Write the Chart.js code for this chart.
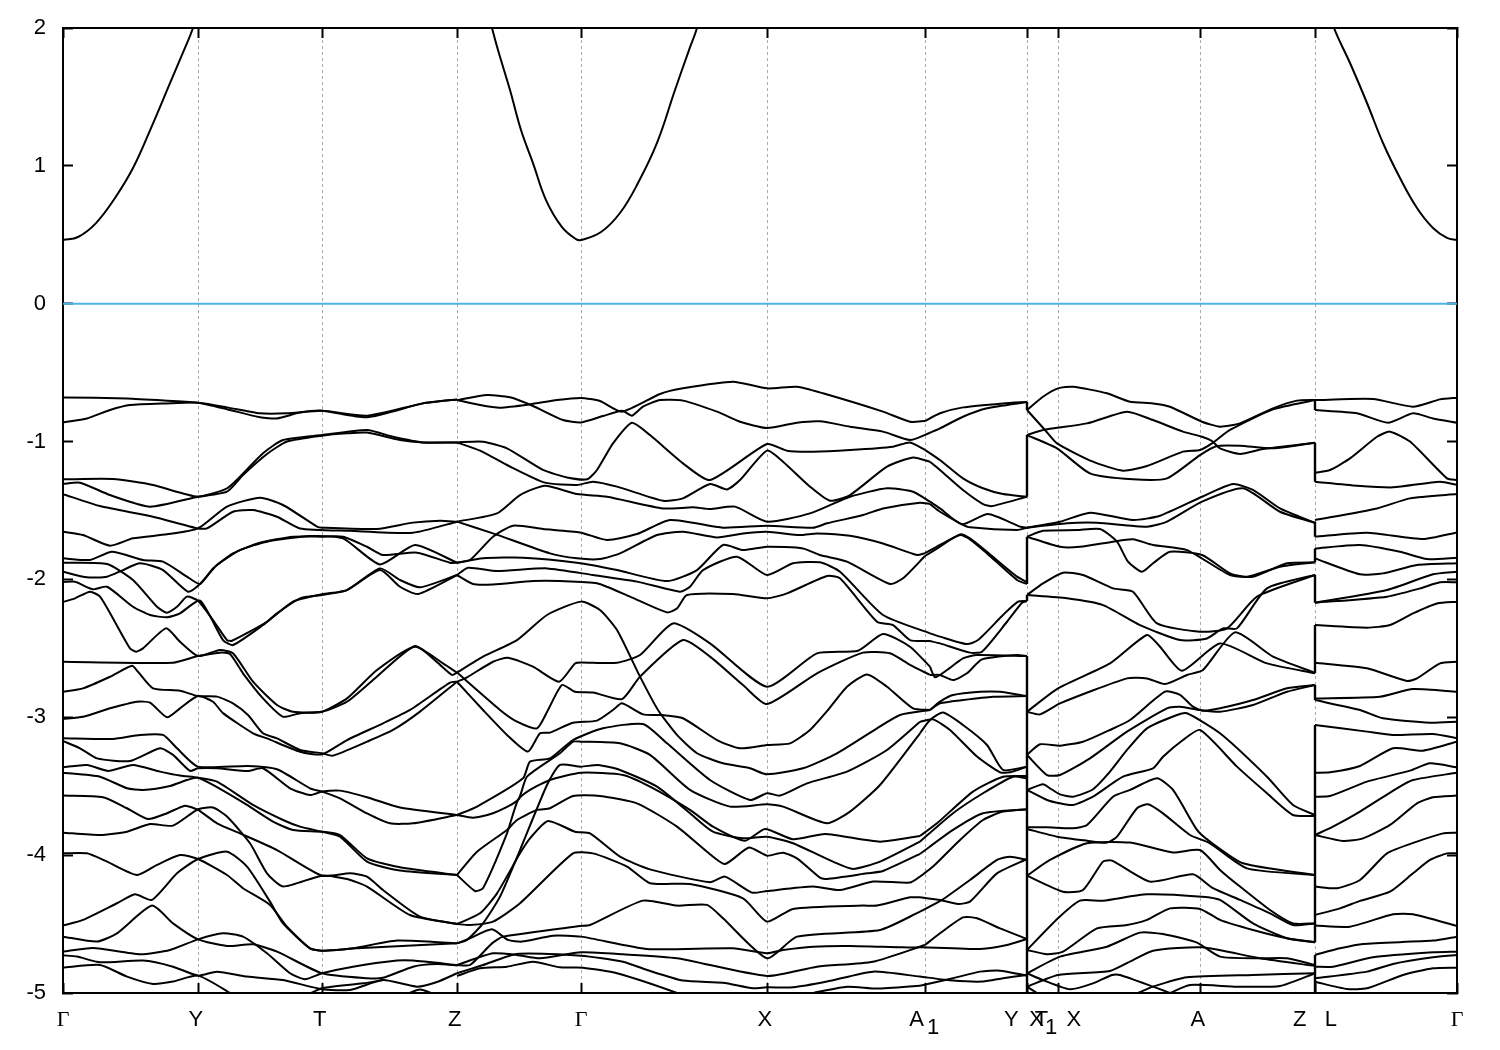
<!DOCTYPE html>
<html><head><meta charset="utf-8">
<style>html,body{margin:0;padding:0;background:#fff}canvas{display:block}</style>
<script src="https://cdn.jsdelivr.net/npm/chart.js@4"></script>
</head><body><canvas id="c" width="1500" height="1050"></canvas>
<script>
// k-path positions of the high-symmetry points and their labels
const kTicks=[0,135,259,394,518,704,862,964,995,1137,1252,1394];
const kLabels=["Γ","Y\u2009","T\u2009","Z\u2009","Γ","X\u2009","A  \u2009","Y \u2009X ","T   X","A\u2009","Z   L","Γ"];
const yTicks=[2,1,0,-1,-2,-3,-4,-5];
const fermi=[0,0,1394,0];
// conduction band (k,E pairs)
const p1=[0,.462,15,.484,33,.585,52,.767,70,.984,88,1.274,107,1.6,121,1.84,130,2,134,2.12];
const p2=[424,2.14,429,2,435,1.84,447,1.55,458,1.26,470,1.02,483,.752,499,.556,513,.469,518,.462,538,.52,557,.658,575,.875,594,1.166,612,1.55,626,1.84,634,2,638,2.14];
const p3=[1266,2.14,1271,2,1287,1.746,1304,1.456,1320,1.166,1337,.912,1354,.694,1370,.549,1384,.477,1394,.462];
// Γ - Y - T - Z
const a01=[0,-.68,64,-.687,104,-.703,135,-.718,164,-.765,197,-.824,214,-.832,237,-.79,259,-.776,304,-.824,360,-.723,394,-.694];
const a02=[0,-.861,24,-.832,47,-.771,67,-.735,104,-.723,135,-.718,164,-.752,197,-.795,224,-.795,259,-.776,304,-.812,360,-.723,394,-.694];
const a03=[0,-1.274,50,-1.272,90,-1.315,135,-1.4,164,-1.339,177,-1.255,200,-1.085,220,-.989,259,-.953,304,-.916,330,-.965,360,-1.006,394,-1.006];
const a04=[0,-1.308,17,-1.298,47,-1.388,87,-1.472,135,-1.4,164,-1.363,180,-1.243,204,-1.09,224,-1,259,-.957,284,-.94,304,-.935,337,-.989,360,-1.006,394,-1.006];
const a05=[0,-1.381,37,-1.468,90,-1.545,135,-1.63,144,-1.63,170,-1.509,190,-1.497,214,-1.545,237,-1.63,287,-1.647,350,-1.661,394,-1.581];
const a06=[0,-1.654,20,-1.678,47,-1.755,70,-1.702,104,-1.673,135,-1.63,164,-1.472,197,-1.407,220,-1.46,254,-1.617,259,-1.625,314,-1.634,350,-1.588,377,-1.574,394,-1.581];
const a07=[0,-1.847,27,-1.859,49,-1.799,80,-1.859,100,-1.871,124,-1.98,137,-2.033,150,-1.92,170,-1.811,197,-1.734,230,-1.69,259,-1.69,280,-1.69,304,-1.763,320,-1.823,354,-1.806,387,-1.879,394,-1.879];
const a08=[0,-1.944,24,-1.985,44,-1.98,60,-1.932,77,-1.883,100,-1.932,125,-2.089,137,-2.033,154,-1.896,177,-1.787,204,-1.726,247,-1.685,280,-1.702,317,-1.891,352,-1.75,394,-1.879];
const a09=[0,-1.879,44,-1.888,70,-2.004,94,-2.198,104,-2.241,114,-2.198,124,-2.125,135,-2.155,150,-2.295,164,-2.44,169,-2.445,204,-2.307,230,-2.161,259,-2.108,284,-2.077,317,-1.92,337,-2.004,357,-2.057,394,-1.968];
const a10=[0,-2.019,12,-2.017,30,-2.072,44,-2.053,70,-2.198,87,-2.258,104,-2.275,117,-2.246,137,-2.154,160,-2.44,170,-2.476,200,-2.331,214,-2.246,237,-2.137,259,-2.113,284,-2.077,317,-1.932,337,-2.053,355,-2.106,394,-1.968];
const a11=[0,-2.164,12,-2.137,27,-2.089,37,-2.125,50,-2.283,67,-2.5,73,-2.524,80,-2.5,103,-2.355,117,-2.452,135,-2.556,157,-2.512,170,-2.536,190,-2.742,214,-2.911,230,-2.96,259,-2.96,284,-2.887,310,-2.73,352,-2.483,374,-2.6,389,-2.693,394,-2.676];
const a12=[0,-2.597,110,-2.604,135,-2.556,157,-2.531,167,-2.541,180,-2.681,200,-2.863,220,-2.996,237,-2.97,259,-2.96,284,-2.863,314,-2.657,352,-2.488,380,-2.609,394,-2.676];
const a13=[0,-2.815,20,-2.79,47,-2.706,69,-2.626,75,-2.67,90,-2.79,117,-2.807,135,-2.846,154,-2.85,170,-2.899,185,-2.984,200,-3.116,214,-3.153,237,-3.237,259,-3.261,270,-3.278,304,-3.177,330,-3.092,357,-2.959,394,-2.742];
const a14=[0,-3.013,20,-2.996,47,-2.935,74,-2.887,87,-2.894,104,-3,117,-2.935,135,-2.846,150,-2.887,160,-2.97,190,-3.116,204,-3.153,237,-3.25,259,-3.269,284,-3.165,320,-3.044,347,-2.947,387,-2.749,394,-2.742];
const a15=[0,-3.152,50,-3.157,77,-3.128,100,-3.128,114,-3.225,135,-3.358,185,-3.353,214,-3.377,247,-3.515,259,-3.539,277,-3.588,304,-3.697,327,-3.769,350,-3.769,394,-3.709];
const a16=[0,-3.172,17,-3.225,34,-3.298,67,-3.317,97,-3.225,110,-3.273,127,-3.389,135,-3.37,154,-3.37,185,-3.389,200,-3.37,227,-3.515,247,-3.564,259,-3.539,277,-3.532,304,-3.58,337,-3.655,394,-3.709];
const a17=[0,-3.363,24,-3.346,45,-3.389,70,-3.346,97,-3.394,117,-3.423,135,-3.438,154,-3.467,190,-3.636,220,-3.745,237,-3.793,259,-3.83,277,-3.866,304,-4.047,337,-4.112,394,-4.144];
const a18=[0,-3.402,37,-3.431,64,-3.515,80,-3.527,107,-3.498,124,-3.455,135,-3.438,150,-3.491,184,-3.636,210,-3.757,230,-3.817,259,-3.83,277,-3.854,304,-4.023,337,-4.088,394,-4.144];
const a19=[0,-3.568,40,-3.58,64,-3.66,85,-3.738,104,-3.696,122,-3.641,135,-3.672,154,-3.769,177,-3.842,214,-3.963,259,-4.149,287,-4.132,304,-4.156,320,-4.253,357,-4.446,394,-4.499];
const a20=[0,-3.837,37,-3.854,64,-3.83,87,-3.774,110,-3.786,135,-3.667,150,-3.655,164,-3.72,187,-3.914,204,-4.132,220,-4.228,259,-4.149,284,-4.173,304,-4.228,347,-4.434,394,-4.499];
const a21=[0,-3.987,24,-3.987,44,-4.047,74,-4.144,94,-4.071,117,-3.999,135,-4.028,164,-4.144,180,-4.24,207,-4.361,224,-4.519,247,-4.676,259,-4.693,294,-4.676,394,-4.64];
const a22=[0,-4.511,20,-4.47,54,-4.349,72,-4.284,89,-4.325,114,-4.132,135,-4.028,164,-3.975,184,-4.083,207,-4.337,220,-4.495,247,-4.676,259,-4.693,290,-4.676,334,-4.62,394,-4.64];
const a23=[0,-4.591,34,-4.627,54,-4.567,89,-4.366,110,-4.495,135,-4.611,164,-4.659,190,-4.647,214,-4.7,259,-4.857,304,-4.893,320,-4.89,350,-4.809,374,-4.79,394,-4.8];
const a24=[0,-4.7,30,-4.673,77,-4.719,107,-4.688,135,-4.611,160,-4.567,180,-4.591,204,-4.712,227,-4.857,242,-4.9,259,-4.857,290,-4.809,334,-4.765,350,-4.765,394,-4.797];
const a25=[0,-4.727,14,-4.736,37,-4.777,80,-4.765,110,-4.809,135,-4.874,154,-4.845,184,-4.881,220,-4.906,259,-4.973,287,-4.978,320,-4.906,354,-4.954,374,-4.92,394,-4.857];
const a26=[0,-4.816,37,-4.797,64,-4.881,90,-4.934,110,-4.917,135,-4.874,167,-5,185,-5.09];
const a27=[240,-5.03,259,-4.965,300,-4.93,320,-4.906];
const a28=[340,-5.02,357,-4.975,375,-5.02];
// Z - Γ - X - A1
const b01=[394,-.699,424,-.662,447,-.679,470,-.742,500,-.844,518,-.861,540,-.815,559,-.776,569,-.812,580,-.747,597,-.699,620,-.703,654,-.783,677,-.856,704,-.902,734,-.863,757,-.853,787,-.892,820,-.928,847,-.989,867,-.936];
const b02=[394,-.699,417,-.735,437,-.754,467,-.73,494,-.699,518,-.684,537,-.706,559,-.783,597,-.655,620,-.614,670,-.566,704,-.614,734,-.602,760,-.65,820,-.783,847,-.856,862,-.851];
const b03=[394,-1.006,420,-1.001,444,-1.049,480,-1.206,504,-1.26,524,-1.274,534,-1.206,550,-1.013,569,-.863,587,-.953,620,-1.158,647,-1.279,704,-1.018,724,-1.066,750,-1.073,787,-1.061,830,-1.037,847,-1.006,862,-1.06];
const b04=[394,-1.006,417,-1.066,444,-1.17,482,-1.298,514,-1.315,530,-1.291,554,-1.327,600,-1.429,620,-1.412,647,-1.308,664,-1.347,677,-1.279,704,-1.066,720,-1.146,747,-1.327,767,-1.429,787,-1.388,824,-1.182,850,-1.115,867,-1.146];
const b05=[394,-1.581,434,-1.521,457,-1.388,482,-1.32,514,-1.381,544,-1.4,600,-1.485,630,-1.477,647,-1.489,672,-1.472,704,-1.581,747,-1.521,787,-1.4,824,-1.339,850,-1.364,867,-1.436];
const b06=[394,-1.581,430,-1.666,487,-1.811,514,-1.847,537,-1.852,557,-1.811,594,-1.678,620,-1.654,654,-1.695,680,-1.666,704,-1.654,737,-1.678,754,-1.666,787,-1.683,820,-1.739,854,-1.823,862,-1.81];
const b07=[394,-1.879,407,-1.859,430,-1.69,450,-1.61,480,-1.634,517,-1.659,544,-1.714,574,-1.671,607,-1.569,660,-1.625,704,-1.61,750,-1.625,764,-1.593,800,-1.533,820,-1.485,857,-1.443,867,-1.453];
const b08=[394,-1.879,420,-1.847,460,-1.842,514,-1.879,554,-1.932,604,-2.012,634,-1.932,660,-1.75,680,-1.787,704,-1.763,740,-1.775,757,-1.823,784,-1.871,827,-2.033,840,-1.992,862,-1.83];
const b09=[394,-1.968,405,-1.915,434,-1.939,484,-1.92,530,-1.968,574,-2.016,617,-2.089,627,-2.053,640,-1.932,674,-1.835,704,-1.968,730,-1.883,757,-1.876,777,-1.944,820,-2.258,867,-2.391];
const b10=[394,-1.968,410,-2.033,430,-2.036,470,-2.012,497,-2.012,534,-2.028,567,-2.125,604,-2.239,614,-2.21,624,-2.113,670,-2.106,704,-2.137,724,-2.101,764,-1.975,777,-1.992,814,-2.307,830,-2.331,847,-2.44,867,-2.447];
const b11=[394,-2.676,420,-2.56,454,-2.44,484,-2.258,518,-2.161,537,-2.222,554,-2.367,577,-2.705,595,-2.947,614,-3.128,634,-3.261,660,-3.334,687,-3.37,704,-3.414,740,-3.37,774,-3.261,814,-3.08,837,-2.983,867,-2.947];
const b12=[394,-2.742,404,-2.71,430,-2.597,445,-2.568,470,-2.633,496,-2.742,512,-2.609,518,-2.602,554,-2.604,577,-2.548,610,-2.319,647,-2.464,704,-2.778,754,-2.536,795,-2.517,820,-2.396,847,-2.488,867,-2.633];
const b13=[394,-2.676,437,-2.947,454,-3.032,474,-3.08,485,-2.947,499,-2.766,512,-2.815,530,-2.82,559,-2.868,577,-2.705,620,-2.44,647,-2.56,680,-2.766,704,-2.904,754,-2.681,800,-2.531,827,-2.536,847,-2.62,867,-2.693];
const b14=[394,-2.742,420,-2.947,444,-3.128,465,-3.249,477,-3.116,487,-3.111,510,-3.039,534,-3.024,550,-2.947,559,-2.899,580,-2.979,600,-2.984,620,-3.007,654,-3.165,677,-3.225,704,-3.201,727,-3.189,747,-3.092,765,-2.947,784,-2.778,804,-2.689,824,-2.778,850,-2.935,867,-2.947];
const b15=[394,-3.709,414,-3.648,460,-3.443,467,-3.322,487,-3.298,510,-3.165,540,-3.08,580,-3.049,604,-3.189,647,-3.455,687,-3.6,704,-3.551,717,-3.568,744,-3.479,784,-3.394,824,-3.237,857,-3.032];
const b16=[394,-3.709,410,-3.728,430,-3.696,455,-3.6,464,-3.431,497,-3.261,510,-3.177,518,-3.177,557,-3.189,587,-3.273,627,-3.527,667,-3.648,704,-3.631,720,-3.648,764,-3.769,787,-3.684,817,-3.491,857,-3.116];
const b17=[394,-4.144,412,-4.26,420,-4.24,444,-3.842,455,-3.6,467,-3.527,487,-3.455,518,-3.402,560,-3.418,587,-3.503,627,-3.672,650,-3.793,682,-3.895,702,-3.81,730,-3.885,762,-3.846,817,-3.902,857,-3.861];
const b18=[394,-4.64,404,-4.615,420,-4.495,437,-4.301,457,-3.963,484,-3.491,497,-3.346,518,-3.358,535,-3.346,557,-3.382,594,-3.503,627,-3.696,650,-3.83,680,-3.878,704,-3.866,730,-3.914,770,-4.047,790,-4.1,817,-4.047,857,-3.902];
const b19=[394,-4.144,414,-3.975,444,-3.817,454,-3.745,474,-3.672,487,-3.66,510,-3.571,537,-3.571,574,-3.624,614,-3.793,644,-3.975,662,-4.064,686,-3.945,704,-4.004,720,-3.982,734,-4.023,757,-4.163,764,-4.173,804,-4.132,820,-4.115,857,-3.991];
const b20=[394,-4.5,417,-4.422,434,-4.277,457,-3.987,467,-3.878,485,-3.752,512,-3.83,527,-3.842,557,-4.011,587,-4.103,647,-4.197,662,-4.156,689,-4.272,704,-4.26,750,-4.228,777,-4.253,810,-4.192,847,-4.199,857,-4.156];
const b21=[394,-4.5,407,-4.507,430,-4.482,457,-4.349,510,-3.987,530,-3.987,564,-4.083,587,-4.204,627,-4.209,680,-4.313,704,-4.482,730,-4.39,800,-4.366,814,-4.366,847,-4.306,857,-4.306];
const b22=[394,-4.64,407,-4.603,429,-4.538,445,-4.615,459,-4.627,490,-4.584,518,-4.591,584,-4.68,670,-4.676,704,-4.712,720,-4.688,750,-4.664,787,-4.659,840,-4.669,857,-4.669];
const b23=[394,-4.797,407,-4.797,429,-4.64,440,-4.591,517,-4.514,527,-4.507,580,-4.33,614,-4.366,644,-4.361,660,-4.458,704,-4.748,734,-4.591,817,-4.543,857,-4.41];
const b24=[394,-4.797,430,-4.712,454,-4.724,477,-4.748,518,-4.705,560,-4.719,614,-4.748,704,-4.876,754,-4.809,810,-4.773,862,-4.652];
const b25=[394,-4.857,420,-4.797,454,-4.717,518,-4.729,560,-4.773,584,-4.833,620,-4.91,660,-4.925,690,-4.966,704,-4.959,730,-4.959,764,-4.917,810,-4.845,857,-4.881];
const b26=[394,-4.876,417,-4.821,444,-4.809,470,-4.773,497,-4.814,520,-4.816,554,-4.857,614,-5,620,-5.03];
const b27=[750,-5,784,-4.955,814,-4.968,857,-4.947];
// A1 - Y
const c01=[862,-.851,877,-.795,900,-.752,940,-.723,964,-.713];
const c02=[867,-.936,877,-.904,900,-.82,924,-.759,964,-.713];
const c03=[862,-1.06,877,-1.134,900,-1.267,920,-1.339,940,-1.381,964,-1.4];
const c04=[867,-1.146,877,-1.206,900,-1.351,920,-1.453,929,-1.468,964,-1.4];
const c05=[867,-1.436,877,-1.485,899,-1.6,925,-1.526,957,-1.617,964,-1.625];
const c06=[867,-1.453,877,-1.509,899,-1.6,907,-1.622,954,-1.642,964,-1.625];
const c07=[862,-1.81,877,-1.75,897,-1.678,907,-1.709,924,-1.811,954,-2.004,964,-2.033];
const c08=[862,-1.83,877,-1.762,897,-1.673,907,-1.702,924,-1.8,954,-1.98,964,-2.02];
const c09=[867,-2.391,877,-2.415,904,-2.469,915,-2.44,940,-2.258,955,-2.161,964,-2.157];
const c10=[867,-2.447,877,-2.464,907,-2.531,919,-2.524,944,-2.307,959,-2.169,964,-2.157];
const c12=[867,-2.633,872,-2.71,884,-2.657,900,-2.573,914,-2.548,964,-2.556];
const c13=[867,-2.693,877,-2.693,890,-2.73,904,-2.681,919,-2.58,954,-2.548,964,-2.556];
const c14=[867,-2.947,877,-2.887,890,-2.839,917,-2.815,937,-2.815,964,-2.846];
const c15=[867,-2.947,877,-2.899,900,-2.875,930,-2.851,964,-2.846];
const c16=[857,-3.032,870,-3.015,887,-3.092,914,-3.285,937,-3.399,947,-3.399,964,-3.358];
const c17=[857,-3.116,867,-3.02,880,-2.966,900,-3.056,924,-3.201,940,-3.382,964,-3.358];
const c18=[857,-3.861,874,-3.769,910,-3.539,940,-3.431,964,-3.426];
const c19=[857,-3.902,890,-3.696,920,-3.551,950,-3.431,964,-3.443];
const c20=[857,-3.991,890,-3.817,920,-3.696,964,-3.667];
const c21=[857,-4.156,870,-4.083,897,-3.89,920,-3.745,940,-3.684,964,-3.667];
const c22=[857,-4.41,879,-4.325,907,-4.18,934,-4.035,947,-4.011,964,-4.035];
const c23=[857,-4.306,877,-4.325,895,-4.354,907,-4.337,934,-4.132,964,-4.028];
const c24=[857,-4.669,890,-4.676,917,-4.681,944,-4.652,964,-4.608];
const c25=[862,-4.652,877,-4.567,900,-4.451,914,-4.458,937,-4.531,964,-4.608];
const c26=[857,-4.881,890,-4.91,920,-4.917,940,-4.893,964,-4.869];
const c27=[857,-4.947,890,-4.893,917,-4.845,937,-4.838,964,-4.874];
// X - T1 - A - Z
const d01=[964,-.771,980,-.675,995,-.614,1010,-.602,1044,-.65,1067,-.711,1090,-.723,1107,-.747,1139,-.856,1157,-.892,1177,-.868,1210,-.759,1234,-.703,1252,-.699];
const d02=[964,-.953,980,-.916,1024,-.868,1064,-.783,1090,-.844,1120,-.928,1139,-.965,1149,-.996,1157,-1.049,1177,-1.09,1200,-1.054,1252,-1.008];
const d03=[964,-.771,982,-.916,994,-1.013,1030,-1.146,1060,-1.211,1084,-1.177,1120,-1.073,1137,-1.061,1149,-1.013,1167,-.916,1210,-.766,1252,-.699];
const d04=[964,-.953,994,-1.049,1027,-1.231,1070,-1.274,1104,-1.267,1137,-1.098,1154,-1.032,1177,-1.03,1210,-1.049,1252,-1.008];
const d05=[964,-1.625,997,-1.581,1027,-1.516,1070,-1.569,1097,-1.538,1139,-1.4,1170,-1.308,1190,-1.351,1217,-1.485,1252,-1.589];
const d06=[964,-1.625,1004,-1.593,1034,-1.589,1084,-1.617,1104,-1.581,1139,-1.436,1180,-1.339,1217,-1.509,1252,-1.589];
const d07=[964,-1.69,980,-1.647,1014,-1.642,1037,-1.634,1054,-1.726,1065,-1.871,1079,-1.944,1090,-1.883,1107,-1.799,1139,-1.823,1167,-1.956,1184,-1.98,1217,-1.908,1252,-1.876];
const d08=[964,-1.69,997,-1.763,1017,-1.763,1050,-1.726,1070,-1.709,1090,-1.75,1124,-1.787,1167,-1.968,1190,-1.98,1224,-1.883,1252,-1.876];
const d09=[964,-2.113,980,-2.029,1000,-1.951,1020,-1.968,1050,-2.065,1070,-2.089,1094,-2.319,1137,-2.379,1164,-2.355,1194,-2.125,1252,-1.968];
const d10=[964,-2.113,1004,-2.137,1040,-2.186,1077,-2.331,1117,-2.44,1144,-2.428,1160,-2.355,1174,-2.355,1204,-2.065,1252,-1.968];
const d11=[964,-2.96,995,-2.79,1047,-2.609,1084,-2.403,1097,-2.488,1119,-2.662,1157,-2.464,1204,-2.609,1252,-2.681];
const d12=[964,-2.96,977,-2.979,997,-2.899,1064,-2.718,1084,-2.718,1102,-2.759,1124,-2.693,1140,-2.657,1172,-2.384,1210,-2.56,1252,-2.677];
const d13=[964,-3.273,977,-3.196,997,-3.206,1020,-3.177,1047,-3.092,1067,-3.02,1102,-2.814,1117,-2.838,1130,-2.923,1140,-2.952,1157,-2.935,1190,-2.875,1224,-2.79,1252,-2.766];
const d14=[964,-3.273,984,-3.419,997,-3.419,1027,-3.298,1064,-3.104,1104,-2.935,1117,-2.923,1137,-2.947,1157,-2.96,1190,-2.911,1224,-2.815,1252,-2.766];
const d15=[964,-3.527,980,-3.486,987,-3.515,997,-3.559,1010,-3.576,1030,-3.522,1047,-3.394,1064,-3.237,1084,-3.08,1114,-2.983,1124,-2.971,1157,-3.116,1204,-3.431,1230,-3.636,1252,-3.709];
const d16=[964,-3.527,984,-3.6,997,-3.624,1010,-3.636,1030,-3.576,1060,-3.431,1090,-3.37,1100,-3.286,1120,-3.165,1137,-3.092,1174,-3.358,1204,-3.551,1230,-3.709,1252,-3.716];
const d17=[964,-3.798,984,-3.798,1010,-3.805,1024,-3.781,1050,-3.576,1067,-3.527,1094,-3.443,1110,-3.527,1134,-3.817,1147,-3.902,1180,-4.059,1252,-4.144];
const d18=[964,-3.81,994,-3.866,1024,-3.895,1044,-3.909,1054,-3.866,1074,-3.66,1085,-3.631,1100,-3.697,1127,-3.854,1147,-3.914,1184,-4.096,1252,-4.144];
const d19=[964,-4.149,987,-4.035,1024,-3.914,1067,-3.909,1110,-3.98,1137,-3.963,1157,-4.107,1177,-4.228,1207,-4.398,1230,-4.495,1252,-4.495];
const d20=[964,-4.149,1000,-4.265,1020,-4.253,1040,-4.047,1049,-4.04,1087,-4.192,1130,-4.139,1150,-4.24,1177,-4.325,1207,-4.422,1230,-4.507,1252,-4.495];
const d21=[964,-4.688,995,-4.458,1017,-4.33,1040,-4.33,1084,-4.284,1139,-4.301,1157,-4.325,1190,-4.495,1224,-4.603,1252,-4.632];
const d22=[964,-4.688,984,-4.719,1000,-4.7,1034,-4.531,1064,-4.507,1084,-4.47,1107,-4.386,1137,-4.39,1157,-4.47,1190,-4.543,1224,-4.603,1252,-4.632];
const d23=[964,-4.857,997,-4.736,1044,-4.664,1077,-4.562,1100,-4.572,1134,-4.635,1157,-4.736,1197,-4.748,1224,-4.748,1252,-4.797];
const d24=[964,-4.954,995,-4.869,1047,-4.84,1070,-4.761,1090,-4.693,1139,-4.669,1197,-4.748,1252,-4.804];
const d25=[964,-4.857,980,-4.906,1007,-4.973,1030,-4.93,1049,-4.869,1057,-4.869,1090,-4.954,1107,-5,1115,-5.03];
const d26=[1075,-5,1090,-4.954,1124,-4.886,1190,-4.869,1252,-4.857];
const d27=[1107,-5,1127,-4.942,1174,-4.954,1217,-4.949,1252,-4.857];
const d28=[964,-4.954,974,-5];
// L - Γ
const e01=[1252,-.699,1310,-.691,1350,-.747,1377,-.694,1394,-.682];
const e02=[1252,-.771,1294,-.795,1325,-.863,1350,-.795,1370,-.832,1394,-.863];
const e03=[1252,-1.226,1267,-1.206,1287,-1.122,1314,-.965,1327,-.928,1347,-1,1384,-1.267,1394,-1.279];
const e04=[1252,-1.291,1294,-1.32,1330,-1.332,1377,-1.291,1394,-1.315];
const e05=[1252,-1.569,1314,-1.485,1347,-1.412,1394,-1.381];
const e06=[1252,-1.69,1304,-1.661,1360,-1.707,1394,-1.659];
const e07=[1252,-1.775,1297,-1.75,1337,-1.799,1364,-1.852,1394,-1.842];
const e08=[1252,-1.847,1297,-1.963,1320,-1.956,1354,-1.896,1394,-1.883];
const e09=[1252,-2.169,1324,-2.077,1370,-1.963,1394,-1.944];
const e10=[1252,-2.169,1324,-2.125,1357,-2.065,1377,-2.021,1394,-2.021];
const e11=[1252,-2.331,1304,-2.35,1327,-2.331,1350,-2.246,1374,-2.174,1394,-2.161];
const e12=[1252,-2.604,1304,-2.645,1344,-2.737,1354,-2.718,1377,-2.609,1394,-2.597];
const e13=[1252,-2.863,1317,-2.851,1350,-2.795,1394,-2.815];
const e14=[1252,-2.875,1297,-2.947,1320,-3.007,1367,-3.039,1394,-3.032];
const e15=[1252,-3.056,1304,-3.104,1330,-3.128,1370,-3.121,1394,-3.152];
const e16=[1252,-3.402,1267,-3.399,1297,-3.353,1330,-3.225,1360,-3.242,1394,-3.177];
const e17=[1252,-3.576,1267,-3.571,1304,-3.467,1347,-3.387,1367,-3.334,1394,-3.363];
const e18=[1252,-3.854,1270,-3.793,1297,-3.684,1334,-3.515,1350,-3.455,1394,-3.402];
const e19=[1252,-3.854,1280,-3.897,1300,-3.878,1327,-3.781,1354,-3.624,1370,-3.58,1394,-3.568];
const e20=[1252,-4.228,1274,-4.24,1297,-4.18,1324,-3.987,1354,-3.902,1380,-3.842,1394,-3.837];
const e21=[1252,-4.434,1277,-4.386,1297,-4.332,1327,-4.265,1350,-4.132,1367,-4.035,1384,-3.987,1394,-3.987];
const e22=[1252,-4.511,1287,-4.519,1330,-4.429,1350,-4.429,1394,-4.514];
const e23=[1252,-4.724,1277,-4.676,1300,-4.644,1370,-4.62,1394,-4.591];
const e24=[1252,-4.809,1270,-4.809,1310,-4.741,1370,-4.705,1394,-4.7];
const e25=[1252,-4.893,1304,-4.845,1330,-4.789,1370,-4.741,1394,-4.724];
const e26=[1252,-4.918,1284,-4.971,1304,-4.966,1340,-4.869,1370,-4.821,1394,-4.816];
// vertical jumps where the k-path is discontinuous
const jumpAtY=[964,-.713,-.771,964,-.953,-1.4,964,-1.69,-2.033,964,-2.113,-2.157,964,-2.556,-5];
const jumpAtZ=[1252,-.699,-.771,1252,-1.008,-1.291,1252,-1.581,-1.69,1252,-1.775,-1.876,1252,-1.968,-2.169,1252,-2.331,-2.681,1252,-2.766,-2.875,1252,-3.056,-4.632,1252,-4.724,-5];

const parabolas=[p1,p2,p3];
const bands=[
a01,a02,a03,a04,a05,a06,a07,a08,a09,a10,a11,a12,a13,a14,a15,a16,a17,a18,a19,a20,a21,a22,a23,a24,a25,a26,a27,a28,
b01,b02,b03,b04,b05,b06,b07,b08,b09,b10,b11,b12,b13,b14,b15,b16,b17,b18,b19,b20,b21,b22,b23,b24,b25,b26,b27,
c01,c02,c03,c04,c05,c06,c07,c08,c09,c10,c12,c13,c14,c15,c16,c17,c18,c19,c20,c21,c22,c23,c24,c25,c26,c27,
d01,d02,d03,d04,d05,d06,d07,d08,d09,d10,d11,d12,d13,d14,d15,d16,d17,d18,d19,d20,d21,d22,d23,d24,d25,d26,d27,d28,
e01,e02,e03,e04,e05,e06,e07,e08,e09,e10,e11,e12,e13,e14,e15,e16,e17,e18,e19,e20,e21,e22,e23,e24,e25,e26];

const pairs=a=>{const o=[];for(let i=0;i<a.length;i+=2)o.push({x:a[i],y:a[i+1]});return o;};
const datasets=[];
datasets.push({data:pairs(fermi),borderColor:'#4cb4e6',borderWidth:2,tension:0});
parabolas.forEach(b=>datasets.push({data:pairs(b),borderColor:'#000',borderWidth:2,tension:0.4}));
bands.forEach(b=>datasets.push({data:pairs(b),borderColor:'#000',borderWidth:2,tension:0.2}));
[jumpAtY,jumpAtZ].forEach(j=>{for(let i=0;i<j.length;i+=3)
  datasets.push({data:[{x:j[i],y:j[i+1]},{x:j[i],y:j[i+2]}],borderColor:'#000',borderWidth:2.4,tension:0});});

const FONT='"Liberation Sans"',FS=22;
const fixTicks=s=>{s.ticks=kTicks.map(v=>({value:v}));};
const noPad=s=>{s.paddingTop=0;s.paddingBottom=0;s.paddingLeft=0;s.paddingRight=0;};
const subscripts={id:'subscripts',afterDraw(ch){
  const c=ch.ctx,x=ch.scales.x;c.save();c.font=FS+'px '+FONT;c.fillStyle='#000';c.textAlign='center';c.textBaseline='middle';
  c.fillText('1',x.getPixelForValue(862)+8,1028);
  c.fillText('1',x.getPixelForValue(995)-7,1028);
  c.restore();}};
const tickGrid=(extra)=>Object.assign({drawOnChartArea:false,tickLength:-10,tickColor:'#000',tickWidth:2},extra||{});
new Chart(document.getElementById('c'),{type:'scatter',data:{datasets},plugins:[subscripts],options:{
  responsive:false,animation:false,devicePixelRatio:1,
  layout:{padding:0},
  elements:{point:{radius:0,hoverRadius:0}},
  plugins:{legend:{display:false},tooltip:{enabled:false},title:{display:false}},
  datasets:{scatter:{showLine:true,pointRadius:0,fill:false}},
  scales:{
    x:{type:'linear',position:'bottom',min:0,max:1394,afterBuildTicks:fixTicks,afterFit:s=>{s.height=57;noPad(s);},
      border:{display:true,color:'#000',width:2,dash:[3,3]},
      grid:{color:'#aaa',lineWidth:1,tickLength:-10,tickColor:'#000',tickWidth:2,tickBorderDash:[]},
      ticks:{autoSkip:false,maxRotation:0,minRotation:0,padding:24,color:'#000',
        font:c=>{const t=kLabels[c.index];return t==='Γ'?{family:'"Liberation Serif"',size:FS}:{family:FONT,size:FS};},
        callback:(v,i)=>kLabels[i]}},
    x2:{type:'linear',position:'top',min:0,max:1394,afterBuildTicks:fixTicks,afterFit:s=>{s.height=28;noPad(s);},
      border:{display:true,color:'#000',width:2},grid:tickGrid(),ticks:{display:false}},
    y:{type:'linear',position:'left',min:-5,max:2,afterBuildTicks:s=>{s.ticks=yTicks.map(v=>({value:v}));},afterFit:s=>{s.width=63;noPad(s);},
      border:{display:true,color:'#000',width:2},grid:tickGrid(),
      ticks:{autoSkip:false,padding:27,color:'#000',font:{family:FONT,size:FS},callback:v=>String(v)}},
    y2:{type:'linear',position:'right',min:-5,max:2,afterBuildTicks:s=>{s.ticks=yTicks.map(v=>({value:v}));},afterFit:s=>{s.width=43;noPad(s);},
      border:{display:true,color:'#000',width:2},grid:tickGrid(),ticks:{display:false}}
  }}});
</script></body></html>
